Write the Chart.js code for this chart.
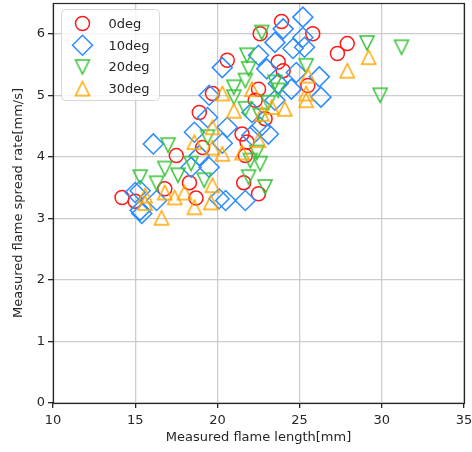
<!DOCTYPE html>
<html>
<head>
<meta charset="utf-8">
<script src="https://cdn.jsdelivr.net/npm/chart.js@4/dist/chart.umd.min.js"></script>
<style>
  html, body { margin: 0; padding: 0; background: #fff; }
</style>
</head>
<body>
<canvas id="flame-chart" width="472" height="452"></canvas>
<script>
var seriesLabels = ['0deg', '10deg', '20deg', '30deg'];

// [flame length mm, spread rate mm/s]
var deg0 = [
  [14.2, 3.34], [15.0, 3.28], [16.8, 3.48], [17.5, 4.02], [18.3, 3.58], [18.7, 3.33],
  [18.9, 4.72], [19.1, 4.15], [19.7, 5.03], [20.6, 5.57], [21.5, 4.37], [21.7, 4.02],
  [21.8, 4.24], [21.6, 3.58], [22.5, 3.40], [22.3, 4.92], [22.5, 5.10], [22.9, 4.62],
  [22.6, 6.00], [23.7, 5.54], [24.0, 5.40], [23.9, 6.20], [25.5, 5.16], [25.8, 6.00],
  [27.3, 5.68], [27.9, 5.84]
];
var deg10 = [
  [25.2, 6.27], [24.0, 6.08], [23.5, 5.86], [25.2, 5.94], [25.3, 5.78], [24.6, 5.76],
  [22.5, 5.65], [23.0, 5.43], [20.3, 5.45], [26.2, 5.30], [24.8, 5.37], [24.5, 5.10],
  [26.3, 4.97], [23.7, 5.19], [23.5, 4.92], [22.6, 4.48], [23.1, 4.37], [22.1, 4.35],
  [20.6, 4.48], [20.3, 4.22], [22.1, 4.72], [20.5, 3.29], [21.7, 3.29], [19.5, 5.00],
  [19.4, 4.64], [16.1, 4.21], [18.6, 4.40], [18.4, 3.83], [19.5, 3.83], [18.9, 4.02],
  [15.3, 3.45], [15.4, 3.08], [16.3, 3.29], [20.1, 3.32], [15.0, 3.42], [15.3, 3.13]
];
var deg20 = [
  [31.2, 5.78], [29.9, 5.00], [29.1, 5.85], [22.7, 6.02], [21.8, 5.65], [21.9, 5.43],
  [25.4, 5.48], [21.7, 5.24], [21.0, 5.13], [23.5, 5.21], [23.7, 5.08], [21.0, 4.97],
  [21.7, 4.78], [22.6, 4.67], [23.1, 4.88], [22.4, 4.07], [22.0, 3.94], [22.6, 3.89],
  [21.9, 3.67], [22.9, 3.51], [17.0, 4.19], [19.4, 4.32], [18.4, 3.89], [16.8, 3.81],
  [17.6, 3.70], [15.3, 3.67], [16.3, 3.57], [19.2, 3.62]
];
var deg30 = [
  [29.2, 5.62], [27.9, 5.40], [25.5, 5.32], [25.4, 5.03], [25.4, 4.92], [22.1, 5.10],
  [20.3, 5.03], [21.0, 4.75], [23.3, 4.81], [24.1, 4.78], [22.7, 4.70], [22.5, 4.27],
  [21.5, 4.07], [20.3, 4.05], [19.7, 4.48], [18.6, 4.24], [19.7, 4.15], [19.7, 3.54],
  [19.6, 3.26], [18.6, 3.18], [18.0, 3.42], [17.4, 3.34], [16.8, 3.42], [15.6, 3.37],
  [16.6, 3.01], [15.6, 3.25]
];

var xTicks = [10, 15, 20, 25, 30, 35];
var yTicks = [0, 1, 2, 3, 4, 5, 6];

var FONT = 'DejaVu Sans';

function toPoints(arr) {
  return arr.map(function (p) { return { x: p[0], y: p[1] }; });
}

// matplotlib-like isosceles triangle marker (width == height)
function triangleMarker(color, down) {
  var c = document.createElement('canvas');
  c.width = 20;
  c.height = 20;
  var ctx = c.getContext('2d');
  var h = 7;
  ctx.strokeStyle = color;
  ctx.lineWidth = 1.5;
  ctx.beginPath();
  if (down) {
    ctx.moveTo(10 - h, 10 - h);
    ctx.lineTo(10 + h, 10 - h);
    ctx.lineTo(10, 10 + h);
  } else {
    ctx.moveTo(10, 10 - h);
    ctx.lineTo(10 + h, 10 + h);
    ctx.lineTo(10 - h, 10 + h);
  }
  ctx.closePath();
  ctx.stroke();
  return c;
}

var colors = ['#ff1a1a', '#2b8cff', '#36c236', '#ffa500'];

var frameAndLegend = {
  id: 'frameAndLegend',
  afterDatasetsDraw: function (chart) {
    var ctx = chart.ctx;
    var a = chart.chartArea;
    ctx.save();
    ctx.strokeStyle = '#262626';
    ctx.lineWidth = 1.2;
    ctx.strokeRect(Math.round(a.left) + 0.5, Math.round(a.top) + 0.5,
      Math.round(a.right - a.left), Math.round(a.bottom - a.top));

    // legend box
    var lx = a.left + 8.5, ly = a.top + 6.5, lw = 98, lh = 91;
    ctx.beginPath();
    ctx.roundRect(lx, ly, lw, lh, 4);
    ctx.fillStyle = 'rgba(255,255,255,0.8)';
    ctx.fill();
    ctx.strokeStyle = '#d6d6d6';
    ctx.lineWidth = 1;
    ctx.stroke();

    ctx.font = '13px "' + FONT + '"';
    ctx.textBaseline = 'middle';
    ctx.textAlign = 'left';
    chart.data.datasets.forEach(function (ds, i) {
      var cy = ly + 14 + i * 21.7;
      ctx.fillStyle = 'rgba(0,0,0,0)';
      ctx.strokeStyle = ds.borderColor;
      ctx.lineWidth = ds.borderWidth;
      Chart.helpers.drawPoint(ctx, {
        pointStyle: ds.pointStyle,
        radius: ds.pointRadius,
        borderWidth: ds.borderWidth,
        rotation: 0
      }, lx + 21, cy);
      ctx.fillStyle = '#262626';
      ctx.fillText(ds.label, lx + 47, cy + 1);
    });
    ctx.restore();
  }
};

function noPad(scale) {
  scale.paddingTop = 0;
  scale.paddingBottom = 0;
  scale.paddingLeft = 0;
  scale.paddingRight = 0;
}

var ctx = document.getElementById('flame-chart').getContext('2d');
new Chart(ctx, {
  type: 'scatter',
  data: {
    datasets: [
      { label: seriesLabels[0], data: toPoints(deg0), pointStyle: 'circle', pointRadius: 7,
        borderColor: colors[0], backgroundColor: 'rgba(0,0,0,0)', borderWidth: 1.5, order: 4 },
      { label: seriesLabels[1], data: toPoints(deg10), pointStyle: 'rectRot', pointRadius: 10,
        borderColor: colors[1], backgroundColor: 'rgba(0,0,0,0)', borderWidth: 1.5, order: 3 },
      { label: seriesLabels[2], data: toPoints(deg20), pointStyle: triangleMarker(colors[2], true), pointRadius: 8,
        borderColor: colors[2], backgroundColor: 'rgba(0,0,0,0)', borderWidth: 1.5, order: 2 },
      { label: seriesLabels[3], data: toPoints(deg30), pointStyle: triangleMarker(colors[3], false), pointRadius: 8,
        borderColor: colors[3], backgroundColor: 'rgba(0,0,0,0)', borderWidth: 1.5, order: 1 }
    ]
  },
  options: {
    responsive: false,
    animation: false,
    layout: { autoPadding: false, padding: { left: 0, right: 8, top: 3, bottom: 0 } },
    plugins: {
      legend: { display: false },
      tooltip: { enabled: false }
    },
    scales: {
      x: {
        type: 'linear',
        min: 10,
        max: 35,
        afterFit: function (scale) { scale.height = 49; noPad(scale); },
        afterBuildTicks: function (scale) { scale.ticks = xTicks.map(function (v) { return { value: v }; }); },
        ticks: { font: { family: FONT, size: 13 }, color: '#262626', padding: 5, maxRotation: 0 },
        grid: { color: '#cccccc', lineWidth: 1.3, tickColor: '#262626', tickLength: 5 },
        border: { display: false },
        title: { display: true, text: 'Measured flame length[mm]', font: { family: FONT, size: 13 },
          color: '#262626', padding: { top: 0, bottom: 7 } }
      },
      y: {
        type: 'linear',
        min: 0,
        max: 6.5,
        afterFit: function (scale) { scale.width = 53; noPad(scale); },
        afterBuildTicks: function (scale) { scale.ticks = yTicks.map(function (v) { return { value: v }; }); },
        ticks: { font: { family: FONT, size: 13 }, color: '#262626', padding: 3 },
        grid: { color: '#cccccc', lineWidth: 1.3, tickColor: '#262626', tickLength: 5 },
        border: { display: false },
        title: { display: true, text: 'Measured flame spread rate[mm/s]', font: { family: FONT, size: 13 },
          color: '#262626', padding: { top: 11, bottom: 0 } }
      }
    }
  },
  plugins: [frameAndLegend]
});
</script>
</body>
</html>
